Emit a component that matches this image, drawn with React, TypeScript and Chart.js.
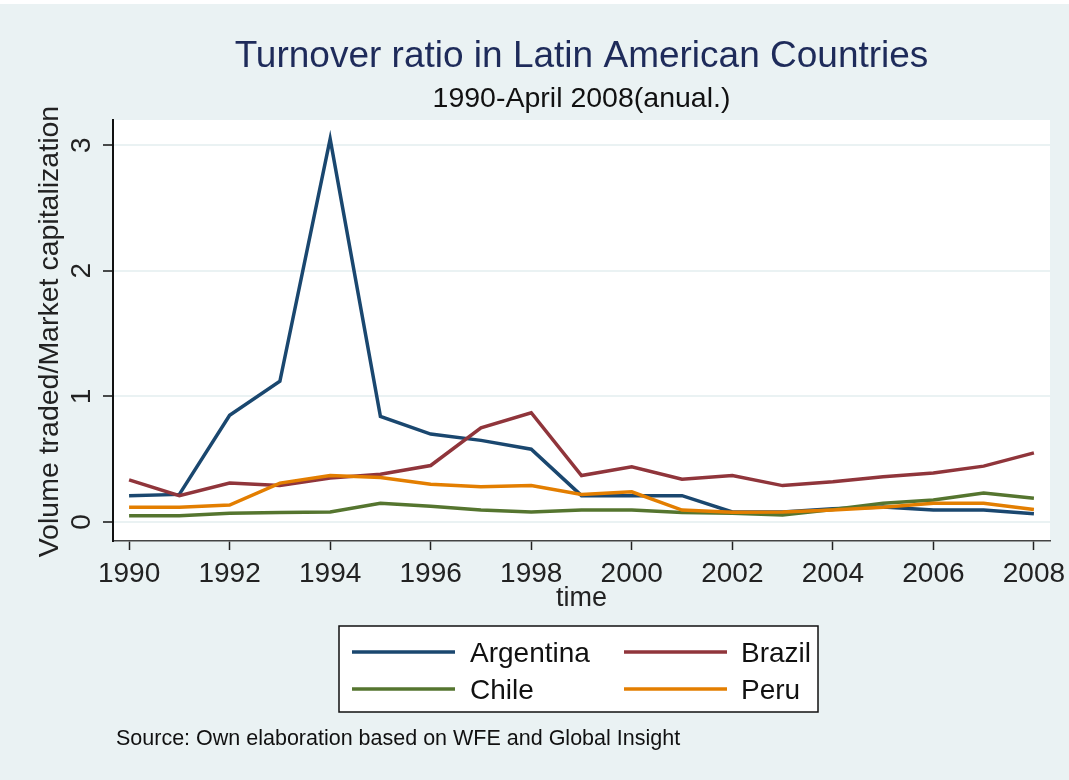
import React, { useEffect, useRef } from "react";
import { Chart, registerables } from "chart.js";

Chart.register(...registerables);

const YEARS = [1990, 1991, 1992, 1993, 1994, 1995, 1996, 1997, 1998, 1999, 2000, 2001, 2002, 2003, 2004, 2005, 2006, 2007, 2008];

const ARGENTINA = [0.21, 0.22, 0.85, 1.12, 3.05, 0.84, 0.70, 0.65, 0.58, 0.21, 0.21, 0.21, 0.08, 0.08, 0.105, 0.12, 0.095, 0.095, 0.065];
const BRAZIL = [0.335, 0.21, 0.31, 0.29, 0.35, 0.38, 0.45, 0.75, 0.87, 0.37, 0.44, 0.34, 0.37, 0.29, 0.32, 0.36, 0.39, 0.445, 0.55];
const CHILE = [0.05, 0.05, 0.07, 0.075, 0.08, 0.15, 0.125, 0.095, 0.08, 0.095, 0.095, 0.075, 0.07, 0.056, 0.10, 0.15, 0.175, 0.23, 0.19];
const PERU = [0.117, 0.117, 0.135, 0.31, 0.37, 0.355, 0.30, 0.28, 0.29, 0.22, 0.24, 0.095, 0.077, 0.08, 0.095, 0.117, 0.15, 0.15, 0.10];

const SERIES_NAMES = ["Argentina", "Brazil", "Chile", "Peru"];
const SERIES_VALUES = [ARGENTINA, BRAZIL, CHILE, PERU];
const SERIES_COLORS = ["#1a476f", "#90353b", "#55752f", "#e37e00"];

const X_TICKS = [1990, 1992, 1994, 1996, 1998, 2000, 2002, 2004, 2006, 2008];
const Y_TICKS = [0, 1, 2, 3];

const TITLE = "Turnover ratio in Latin American Countries";
const SUBTITLE = "1990-April 2008(anual.)";
const X_TITLE = "time";
const Y_TITLE = "Volume traded/Market capitalization";
const NOTE = "Source: Own elaboration based on WFE and Global Insight";

const FONT = "'Liberation Sans', Arial, Helvetica, sans-serif";
const BG = "#eaf2f3";

const decorPlugin = {
  id: "decor",
  beforeDraw(chart: any) {
    const { ctx, width, height, chartArea } = chart;
    ctx.save();
    ctx.fillStyle = BG;
    ctx.fillRect(0, 0, width, height);
    ctx.fillStyle = "#ffffff";
    ctx.fillRect(0, 0, width, 4);
    ctx.fillRect(chartArea.left, chartArea.top, chartArea.right - chartArea.left, chartArea.bottom - chartArea.top);
    ctx.restore();
  },
  afterDraw(chart: any) {
    const { ctx, scales } = chart;
    const ys = scales.y;
    const xs = scales.x;
    ctx.save();
    // Title
    const cx = (xs.getPixelForValue(1990) + xs.getPixelForValue(2008)) / 2;
    ctx.textAlign = "center";
    ctx.textBaseline = "alphabetic";
    ctx.fillStyle = "#1e2b5a";
    ctx.font = `37px ${FONT}`;
    ctx.fillText(TITLE, cx, 67);
    ctx.fillStyle = "#111111";
    ctx.font = `28.5px ${FONT}`;
    ctx.fillText(SUBTITLE, cx, 107);

    // X tick labels
    ctx.font = `28px ${FONT}`;
    ctx.fillStyle = "#222222";
    ctx.textAlign = "center";
    for (const t of xs.ticks) {
      ctx.fillText(String(t.value), xs.getPixelForValue(t.value), 582);
    }

    // Y tick labels (rotated)
    for (const t of ys.ticks) {
      const py = ys.getPixelForValue(t.value);
      ctx.save();
      ctx.translate(90, py);
      ctx.rotate(-Math.PI / 2);
      ctx.textAlign = "center";
      ctx.textBaseline = "alphabetic";
      ctx.fillText(String(t.value), 0, 0);
      ctx.restore();
    }

    // Y title
    ctx.save();
    ctx.font = `28.5px ${FONT}`;
    ctx.translate(58, (ys.getPixelForValue(0) + ys.getPixelForValue(3)) / 2 - 2);
    ctx.rotate(-Math.PI / 2);
    ctx.textAlign = "center";
    ctx.fillText(Y_TITLE, 0, 0);
    ctx.restore();

    // X title
    ctx.font = `27px ${FONT}`;
    ctx.textAlign = "center";
    ctx.fillText(X_TITLE, cx, 606);

    // Legend
    const lx = 339, ly = 626, lw = 479, lh = 86;
    ctx.fillStyle = "#ffffff";
    ctx.fillRect(lx, ly, lw, lh);
    ctx.strokeStyle = "#111111";
    ctx.lineWidth = 1.5;
    ctx.strokeRect(lx, ly, lw, lh);
    const cols = [[352, 455, 470], [624, 727, 741]];
    const rows = [652, 689];
    ctx.font = `28px ${FONT}`;
    ctx.textAlign = "left";
    chart.data.datasets.forEach((ds: any, i: number) => {
      const c = cols[i % 2];
      const r = rows[Math.floor(i / 2)];
      ctx.strokeStyle = ds.borderColor;
      ctx.lineWidth = 3.5;
      ctx.beginPath();
      ctx.moveTo(c[0], r);
      ctx.lineTo(c[1], r);
      ctx.stroke();
      ctx.fillStyle = "#111111";
      ctx.fillText(ds.label, c[2], r + 10);
    });

    // Note
    ctx.font = `21.5px ${FONT}`;
    ctx.fillStyle = "#111111";
    ctx.fillText(NOTE, 116, 745);
    ctx.restore();
  },
};

export default function App() {
  const ref = useRef<HTMLCanvasElement | null>(null);
  useEffect(() => {
    document.body.style.margin = "0";
    const canvas = ref.current;
    if (!canvas) return;
    const datasets = SERIES_NAMES.map((name, i) => ({
      label: name,
      data: YEARS.map((yr, j) => ({ x: yr, y: SERIES_VALUES[i][j] })),
      borderColor: SERIES_COLORS[i],
      backgroundColor: SERIES_COLORS[i],
      borderWidth: 3.5,
      pointRadius: 0,
      tension: 0,
      fill: false,
      order: SERIES_NAMES.length - i,
    }));
    const chart = new Chart(canvas, {
      type: "line",
      data: { datasets },
      options: {
        responsive: false,
        animation: false,
        devicePixelRatio: 1,
        layout: { padding: { left: 113, right: 19, top: 120, bottom: 239 } },
        plugins: {
          legend: { display: false },
          title: { display: false },
          tooltip: { enabled: false },
        },
        scales: {
          x: {
            type: "linear",
            min: 1989.68,
            max: 2008.32,
            afterBuildTicks: (s: any) => {
              s.ticks = X_TICKS.map((v) => ({ value: v }));
            },
            afterFit: (s: any) => {
              s.height = 0;
            },
            grid: {
              drawOnChartArea: false,
              drawTicks: true,
              tickLength: 9,
              tickColor: "#222222",
              tickWidth: 1.5,
            },
            border: { display: true, color: "#444444", width: 1.5 },
            ticks: { display: false },
          },
          y: {
            type: "linear",
            min: -0.151,
            max: 3.2,
            afterBuildTicks: (s: any) => {
              s.ticks = Y_TICKS.map((v) => ({ value: v }));
            },
            afterFit: (s: any) => {
              s.width = 0;
            },
            grid: {
              color: BG,
              lineWidth: 2,
              drawTicks: true,
              tickLength: 10,
              tickColor: "#111111",
              tickWidth: 1.5,
            },
            border: { display: true, color: "#111111", width: 2 },
            ticks: { display: false },
          },
        },
      },
      plugins: [decorPlugin],
    } as any);
    return () => chart.destroy();
  }, []);
  return (
    <canvas
      ref={ref}
      width={1069}
      height={780}
      style={{ display: "block", width: "1069px", height: "780px" }}
    />
  );
}
